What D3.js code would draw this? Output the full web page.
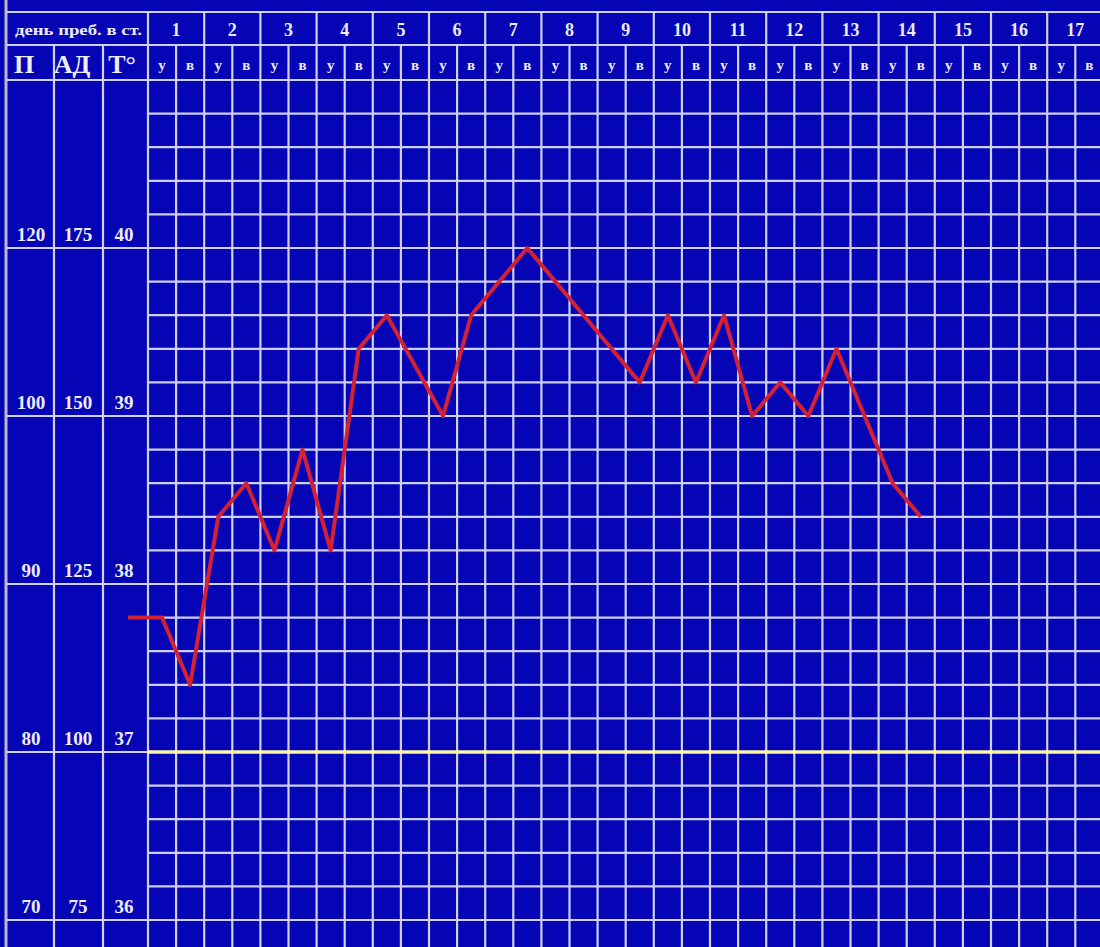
<!DOCTYPE html>
<html>
<head>
<meta charset="utf-8">
<script src="https://cdn.jsdelivr.net/npm/d3@7"></script>
<style>
    body { margin: 0; background: #0505b6; }
    svg { display: block; }
    text { font-family: 'Liberation Serif', 'Times New Roman', serif; font-weight: bold; fill: #ececf8; }
</style>
</head>
<body>
<div id="vis"></div>
<script>
// day numbers across the header, morning/evening sub columns
var dayLabels = [1, 2, 3, 4, 5, 6, 7, 8, 9, 10, 11, 12, 13, 14, 15, 16, 17];
var halfLabels = ['у', 'в'];

// scale labels on the left
var pulseTicks = [70, 80, 90, 100, 120];
var bpTicks = [75, 100, 125, 150, 175];
var tempTicks = [36, 37, 38, 39, 40];

// temperature on admission, then morning / evening readings day 1..14
var admissionTemp = 37.8;
var temps = [
    37.8, 37.4,  38.4, 38.6,  38.2, 38.8,  38.2, 39.4,  39.6, 39.3,
    39.0, 39.6,  39.8, 40.0,  39.8, 39.6,  39.4, 39.2,  39.6, 39.2,
    39.6, 39.0,  39.2, 39.0,  39.4, 39.0,  38.6, 38.4
];

(function() {
    var W = 1100, H = 947;
    var plotLeft = 148;
    var slotW = 28.1;
    var row1 = 12, row2 = 45;
    var gridColor = '#cfcff8';

    var svg = d3.select('#vis')
        .append('svg')
        .attr('width', W)
        .attr('height', H);

    svg.append('rect')
        .attr('width', W)
        .attr('height', H)
        .attr('fill', '#0505b6');

    var nSlots = dayLabels.length * 2;
    var xScale = d3.scaleLinear().domain([0, nSlots]).range([plotLeft, plotLeft + nSlots * slotW]);
    var yScale = d3.scaleLinear().domain([36, 41]).range([920, 80]);

    // left border
    svg.append('line')
        .attr('x1', 6).attr('x2', 6)
        .attr('y1', 0).attr('y2', H)
        .attr('stroke', '#b9b9c9')
        .attr('stroke-width', 3);

    var grid = svg.append('g').attr('stroke', gridColor).attr('stroke-width', 2.2);

    // header rules
    grid.selectAll('.hrow')
        .data([row1, row2, yScale(41)])
        .enter().append('line')
        .attr('x1', 7).attr('x2', W)
        .attr('y1', function(d) { return d; })
        .attr('y2', function(d) { return d; });

    // horizontal grid every 0.2 degree
    var hLines = d3.range(0, 25).map(function(k) { return +(36 + k * 0.2).toFixed(1); });
    grid.selectAll('.hgrid')
        .data(hLines)
        .enter().append('line')
        .attr('x1', function(d) { return Math.abs(d - Math.round(d)) < 0.01 ? 7 : plotLeft; })
        .attr('x2', W)
        .attr('y1', function(d) { return yScale(d); })
        .attr('y2', function(d) { return yScale(d); });

    // vertical grid: day boundaries reach the top header row
    grid.selectAll('.vgrid')
        .data(d3.range(0, nSlots + 1))
        .enter().append('line')
        .attr('x1', function(d) { return xScale(d); })
        .attr('x2', function(d) { return xScale(d); })
        .attr('y1', function(d) { return d % 2 === 0 ? row1 : row2; })
        .attr('y2', H);

    // left label columns
    grid.selectAll('.lcol')
        .data([54, 103])
        .enter().append('line')
        .attr('x1', function(d) { return d; })
        .attr('x2', function(d) { return d; })
        .attr('y1', row2)
        .attr('y2', H);

    // 37 degree norm line
    svg.append('line')
        .attr('x1', plotLeft).attr('x2', W)
        .attr('y1', yScale(37)).attr('y2', yScale(37))
        .attr('stroke', '#fbf7a6')
        .attr('stroke-width', 3.5);

    // temperature curve
    var points = [{slot: -1.21, t: admissionTemp}].concat(temps.map(function(t, i) {
        return {slot: i, t: t};
    }));

    var line = d3.line()
        .x(function(d) { return xScale(d.slot + 0.5); })
        .y(function(d) { return yScale(d.t); });

    svg.append('path')
        .datum(points)
        .attr('d', line)
        .attr('fill', 'none')
        .attr('stroke', '#d42232')
        .attr('stroke-width', 4)
        .attr('stroke-linejoin', 'round');

    // header texts
    svg.append('text')
        .attr('x', 15).attr('y', 35)
        .attr('textLength', 127)
        .attr('lengthAdjust', 'spacingAndGlyphs')
        .style('font-size', '15px')
        .text('день преб. в ст.');

    svg.selectAll('.day')
        .data(dayLabels)
        .enter().append('text')
        .attr('x', function(d) { return xScale((d - 1) * 2 + 1); })
        .attr('y', 36)
        .attr('text-anchor', 'middle')
        .style('font-size', '18px')
        .text(function(d) { return d; });

    svg.selectAll('.half')
        .data(d3.range(0, nSlots))
        .enter().append('text')
        .attr('x', function(d) { return xScale(d + 0.5); })
        .attr('y', 70)
        .attr('text-anchor', 'middle')
        .style('font-size', '15px')
        .text(function(d) { return halfLabels[d % 2]; });

    var heads = [['П', 24], ['АД', 72], ['Т°', 122]];
    svg.selectAll('.head')
        .data(heads)
        .enter().append('text')
        .attr('x', function(d) { return d[1]; })
        .attr('y', 73)
        .attr('text-anchor', 'middle')
        .style('font-size', '26px')
        .text(function(d) { return d[0]; });

    // value labels on each degree line
    var cols = [[pulseTicks, 31], [bpTicks, 78], [tempTicks, 124]];
    cols.forEach(function(c) {
        svg.selectAll(null)
            .data(c[0])
            .enter().append('text')
            .attr('x', c[1])
            .attr('y', function(d, i) { return yScale(tempTicks[i]) - 7; })
            .attr('text-anchor', 'middle')
            .style('font-size', '19px')
            .text(function(d) { return d; });
    });
})();
</script>
</body>
</html>
